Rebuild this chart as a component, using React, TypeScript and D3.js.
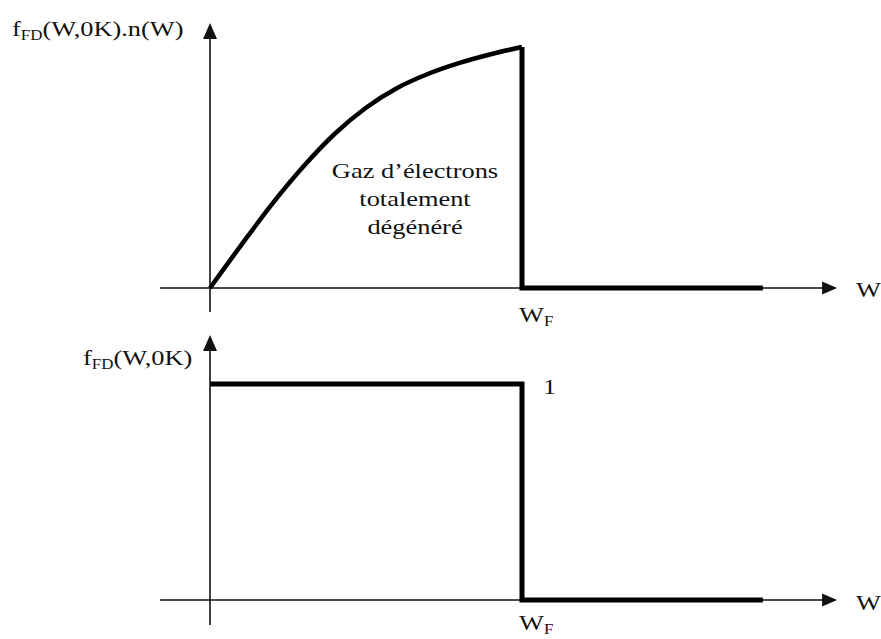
import React from "react";
import * as d3 from "d3";

// Energy (in units of W_F) and f_FD(W,0K)·n(W) (normalised to its value at W_F)
const energy = [0, 0.1, 0.2, 0.3, 0.4, 0.5, 0.6, 0.7, 0.8, 0.9, 1.0];
const product = [0, 0.178, 0.35, 0.505, 0.64, 0.748, 0.83, 0.889, 0.934, 0.97, 1.0];

// Drop at W_F and empty states above it (top panel)
const tailEnergy = [1, 1, 1.772];
const tailProduct = [1, 0, 0];

// Fermi–Dirac occupation at 0 K (bottom panel)
const stepEnergy = [0, 1, 1, 1.772];
const occupation = [1, 1, 0, 0];

const topAxisLabel = { main: "f", sub: "FD", rest: "(W,0K).n(W)" };
const bottomAxisLabel = { main: "f", sub: "FD", rest: "(W,0K)" };
const fermiLabel = { main: "W", sub: "F" };
const xAxisName = "W";
const levelLabel = "1";
const noteLines = ["Gaz d\u2019électrons", "totalement", "dégénéré"];

const W = 881;
const H = 639;
const FONT = "'Liberation Serif', 'Times New Roman', serif";
const SX = 1.2; // horizontal stretch of the lettering

const x = d3.scaleLinear().domain([0, 1]).range([210, 522]);
const yTop = d3.scaleLinear().domain([0, 1]).range([288, 47]);
const yBot = d3.scaleLinear().domain([0, 1]).range([600, 384]);

const xMin = -0.16;
const xMax = 2.01;

function Label({ tx, ty, main, sub, rest, size = 22, anchor = "start" }: any) {
  return (
    <g transform={`translate(${tx},${ty}) scale(${SX},1)`}>
      <text fontFamily={FONT} fontSize={size} fill="#111" textAnchor={anchor}>
        {main}
        {sub && (
          <tspan fontSize={size * 0.64} dy={4}>
            {sub}
          </tspan>
        )}
        {rest && <tspan dy={sub ? -4 : 0}>{rest}</tspan>}
      </text>
    </g>
  );
}

function Axes({ y, yLo, yHi }: { y: d3.ScaleLinear<number, number>; yLo: number; yHi: number }) {
  const x0 = x(0);
  const ya = y(0);
  const xTip = x(xMax);
  const yTip = y(yHi);
  return (
    <g stroke="#111" fill="#111">
      <line x1={x(xMin)} x2={xTip - 12} y1={ya} y2={ya} strokeWidth={1.6} />
      <path d={`M${xTip},${ya} L${xTip - 15},${ya - 6.5} L${xTip - 15},${ya + 6.5} Z`} stroke="none" />
      <line x1={x0} x2={x0} y1={y(yLo)} y2={yTip + 12} strokeWidth={1.6} />
      <path d={`M${x0},${yTip} L${x0 - 7},${yTip + 16} L${x0 + 7},${yTip + 16} Z`} stroke="none" />
    </g>
  );
}

export default function App() {
  const curve = d3
    .line<number>()
    .x((_, i) => x(energy[i]))
    .y((d) => yTop(d))
    .curve(d3.curveMonotoneX)(product) as string;
  const tail = d3
    .line<number>()
    .x((_, i) => x(tailEnergy[i]))
    .y((d) => yTop(d))(tailProduct) as string;
  const step = d3
    .line<number>()
    .x((_, i) => x(stepEnergy[i]))
    .y((d) => yBot(d))(occupation) as string;

  return (
    <svg width={W} height={H} style={{ position: "absolute", left: 0, top: 0 }}>
      <rect width={W} height={H} fill="#fff" />

      {/* top panel */}
      <Axes y={yTop} yLo={-0.1} yHi={1.1} />
      <path d={curve} fill="none" stroke="#000" strokeWidth={4.5} />
      <path d={tail} fill="none" stroke="#000" strokeWidth={5} strokeLinejoin="miter" />
      <Label tx={12} ty={36} {...topAxisLabel} />
      <Label tx={519} ty={322} {...fermiLabel} />
      <Label tx={856} ty={297} main={xAxisName} />
      {noteLines.map((t, i) => (
        <Label key={t} tx={415} ty={178 + i * 28} main={t} anchor="middle" />
      ))}

      {/* bottom panel */}
      <Axes y={yBot} yLo={-0.116} yHi={1.227} />
      <path d={step} fill="none" stroke="#000" strokeWidth={5} strokeLinejoin="miter" />
      <Label tx={83} ty={365} {...bottomAxisLabel} />
      <Label tx={543} ty={394} main={levelLabel} />
      <Label tx={519} ty={630} {...fermiLabel} />
      <Label tx={856} ty={610} main={xAxisName} />
    </svg>
  );
}
